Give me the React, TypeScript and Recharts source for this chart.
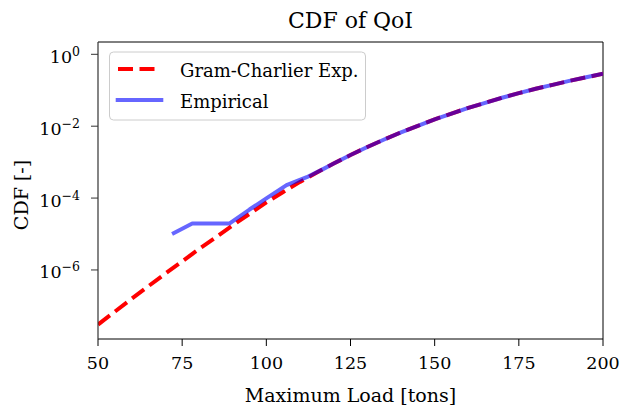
import React from 'react';
import { LineChart, Line, XAxis, YAxis, ReferenceLine } from 'recharts';

const loadsGC = [50, 55, 60, 65, 70, 75, 80, 85, 90, 95, 100, 105, 110, 115, 120, 125, 130, 135, 140, 145, 150, 155, 160, 165, 170, 175, 180, 185, 190, 195, 200];
const cdfGC = [3.02e-8, 6.92e-8, 1.58e-7, 3.55e-7, 7.94e-7, 1.74e-6, 3.8e-6, 8.13e-6, 1.74e-5, 3.63e-5, 7.59e-5, 1.48e-4, 2.82e-4, 5.13e-4, 9.12e-4, 1.58e-3, 2.63e-3, 4.27e-3, 6.76e-3, 1.02e-2, 1.55e-2, 2.24e-2, 3.24e-2, 4.47e-2, 6.17e-2, 8.32e-2, 0.11, 0.141, 0.182, 0.229, 0.288];

const loadsEmp = [72, 78, 89, 95, 100, 106, 112, 117, 120, 125, 130, 135, 140, 145, 150, 155, 160, 165, 170, 175, 180, 185, 190, 195, 200];
const cdfEmp = [1.0e-5, 1.95e-5, 1.95e-5, 4.8e-5, 9.8e-5, 2.3e-4, 3.8e-4, 6.5e-4, 9.12e-4, 1.58e-3, 2.63e-3, 4.27e-3, 6.76e-3, 1.02e-2, 1.55e-2, 2.24e-2, 3.24e-2, 4.47e-2, 6.17e-2, 8.32e-2, 0.11, 0.141, 0.182, 0.229, 0.288];

const xTicks = [50, 75, 100, 125, 150, 175, 200];
const xDomain = [50, 200];
const yTicks = [1e-6, 1e-4, 1e-2, 1];
const yDomain = [1.2e-8, 2.2];

const gcData = loadsGC.map((load, i) => ({ load, cdf: cdfGC[i] }));
const empData = loadsEmp.map((load, i) => ({ load, cdf: cdfEmp[i] }));

const FONT = '"DejaVu Serif", serif';

function YTick(props: any) {
  const { x, y, payload } = props;
  const exp = Math.round(Math.log10(payload.value));
  const sup = exp === 0 ? '0' : '\u2212' + Math.abs(exp);
  return (
    <text x={x} y={y + 8.5} textAnchor="end" fontSize={17.5} fill="#000" fontFamily={FONT}>
      <tspan>10</tspan>
      <tspan dy={-7} fontSize={12.5}>{sup}</tspan>
    </text>
  );
}

export default function App() {
  return (
    <div style={{ position: 'absolute', left: 0, top: 0, width: 622, height: 405, background: '#fff', fontFamily: FONT }}>
      <LineChart width={622} height={405} margin={{ top: 42, right: 19, bottom: 0, left: 0 }}>
        <XAxis
          dataKey="load"
          type="number"
          domain={xDomain}
          ticks={xTicks}
          allowDataOverflow
          height={66}
          tickSize={7}
          tickMargin={11}
          tick={{ fill: '#000', fontSize: 17.5, fontFamily: FONT }}
          axisLine={{ stroke: '#000', strokeWidth: 1 }}
          tickLine={{ stroke: '#000', strokeWidth: 1 }}
        />
        <YAxis
          type="number"
          scale="log"
          domain={yDomain}
          ticks={yTicks}
          allowDataOverflow
          width={98}
          tickSize={7}
          tickMargin={11}
          tick={<YTick />}
          axisLine={{ stroke: '#333', strokeWidth: 1.2 }}
          tickLine={{ stroke: '#333', strokeWidth: 1 }}
        />
        <ReferenceLine y={yDomain[1]} stroke="#000" strokeWidth={1} ifOverflow="visible" />
        <ReferenceLine x={xDomain[1]} stroke="#000" strokeWidth={1} ifOverflow="visible" />
        <Line
          data={gcData}
          dataKey="cdf"
          type="linear"
          stroke="#ff0000"
          strokeWidth={4}
          strokeDasharray="15 6.5"
          dot={false}
          activeDot={false}
          isAnimationActive={false}
        />
        <Line
          data={empData}
          dataKey="cdf"
          type="linear"
          stroke="#0000ff"
          strokeOpacity={0.6}
          strokeWidth={4}
          strokeLinejoin="round"
          dot={false}
          activeDot={false}
          isAnimationActive={false}
        />
      </LineChart>
      <svg width={622} height={405} style={{ position: 'absolute', left: 0, top: 0, pointerEvents: 'none' }}>
        <text x={350.5} y={28.3} textAnchor="middle" fontSize={22} fill="#000" fontFamily={FONT}>CDF of QoI</text>
        <text x={350.5} y={401.5} textAnchor="middle" fontSize={19} fill="#000" fontFamily={FONT}>Maximum Load [tons]</text>
        <text x={27.5} y={195} textAnchor="middle" fontSize={19} fill="#000" fontFamily={FONT} transform="rotate(-90, 27.5, 195)">CDF [-]</text>
        <rect x={109.5} y={52} width={256} height={68} rx={4} ry={4} fill="#fff" fillOpacity={0.8} stroke="#cccccc" strokeWidth={1} />
        <line x1={118} y1={69} x2={157} y2={69} stroke="#ff0000" strokeWidth={4} strokeDasharray="15 6.5" />
        <line x1={117.7} y1={100} x2={161.3} y2={100} stroke="#0000ff" strokeOpacity={0.6} strokeWidth={4} strokeLinecap="square" />
        <text x={180} y={77} fontSize={18} fill="#000" fontFamily={FONT}>Gram-Charlier Exp.</text>
        <text x={180} y={108} fontSize={18} fill="#000" fontFamily={FONT}>Empirical</text>
      </svg>
    </div>
  );
}
